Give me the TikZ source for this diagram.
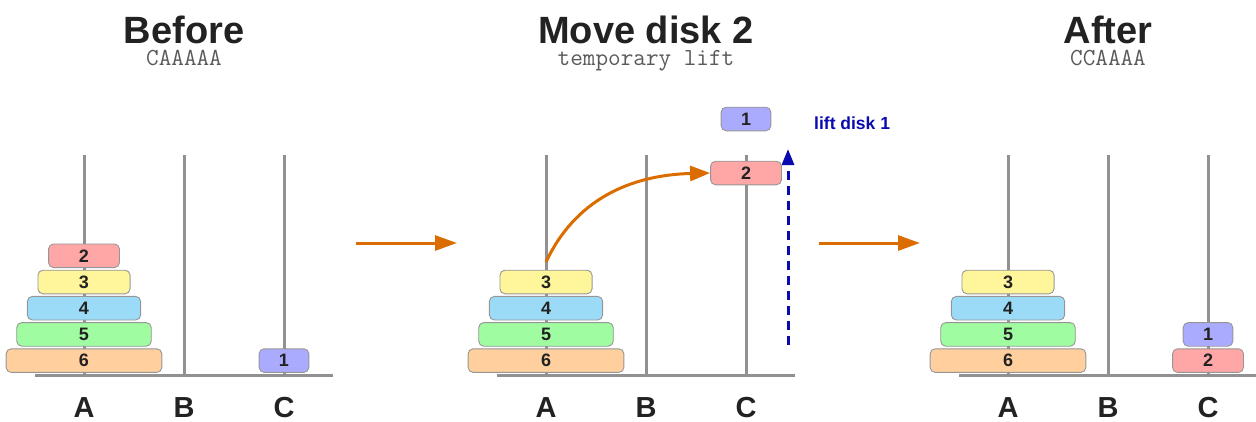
\documentclass[tikz,border=0pt]{standalone}
\usepackage{fontspec}
\setsansfont{Liberation Sans}
\usetikzlibrary{arrows.meta}
\definecolor{pegcol}{RGB}{145,145,145}
\definecolor{diskedge}{RGB}{150,150,150}
\definecolor{txt}{RGB}{34,34,34}
\definecolor{subcol}{RGB}{90,90,90}
\definecolor{orng}{RGB}{218,108,0}
\definecolor{blu}{RGB}{10,10,175}
\definecolor{d1}{RGB}{170,171,255}
\definecolor{d2}{RGB}{255,166,166}
\definecolor{d3}{RGB}{255,246,155}
\definecolor{d4}{RGB}{155,219,247}
\definecolor{d5}{RGB}{160,252,160}
\definecolor{d6}{RGB}{255,208,158}
\tikzset{
  peg/.style={draw=pegcol, line width=3pt},
  baseline/.style={draw=pegcol, line width=3pt},
  disk/.style={draw=diskedge, line width=0.9pt, rounded corners=5pt, minimum height=23.6pt, inner sep=0pt,
    font=\sffamily\bfseries\fontsize{18}{18}\selectfont, text=txt},
  title/.style={anchor=base, font=\sffamily\bfseries\fontsize{38}{40}\selectfont, text=txt, inner sep=0pt},
  sub/.style={anchor=base, font=\ttfamily\fontsize{24.5}{26}\selectfont, text=subcol, inner sep=0pt},
  peglabel/.style={anchor=base, font=\sffamily\bfseries\fontsize{29}{30}\selectfont, text=txt, inner sep=0pt},
  step arrow/.style={draw=orng, line width=3pt, -{Triangle[length=22pt,width=15pt]}},
  move arrow/.style={draw=orng, line width=3pt, -{Triangle[length=20pt,width=15pt]}},
  lift arrow/.style={draw=blu, line width=3pt, dash pattern=on 9pt off 6pt, -{Triangle[length=16pt,width=12pt]}},
}
\newcommand\hdisk[4]{\node[disk, fill=d#4, minimum width={28.5+21.2*#4}] (#1) at (#2,{360.6-26.2*#3}) {#4};}
\newcommand\pegset[2]{%
  \draw[baseline] (#1-49,375) -- (#1+249,375);
  \foreach \i/\n in {0/A,100/B,200/C} {
    \draw[peg] (#1+\i,155) -- (#1+\i,375);
    \node[peglabel] (#2\n) at (#1+\i,417) {\n};
  }}
\begin{document}
\begin{tikzpicture}[x=1pt,y=-1pt]
\useasboundingbox (0,0) rectangle (1256,421);
% panel 1
\pegset{84}{p}
\node[title] (t1) at (184,43) {Before};
\node[sub] (s1) at (184,65) {CAAAAA};
\hdisk{b6}{84}{0}{6}
\hdisk{b5}{84}{1}{5}
\hdisk{b4}{84}{2}{4}
\hdisk{b3}{84}{3}{3}
\hdisk{b2}{84}{4}{2}
\hdisk{b1}{284}{0}{1}
% panel 2
\pegset{546}{q}
\node[title] (t2) at (646,43) {Move disk 2};
\node[sub] (s2) at (646,65) {temporary lift};
\hdisk{m6}{546}{0}{6}
\hdisk{m5}{546}{1}{5}
\hdisk{m4}{546}{2}{4}
\hdisk{m3}{546}{3}{3}
\node[disk, fill=d2, minimum width={28.5+21.2*2}] (m2) at (746,173) {2};
\node[disk, fill=d1, minimum width={28.5+21.2*1}] (m1) at (746,119) {1};
\node[anchor=west, inner sep=0pt, font=\sffamily\bfseries\fontsize{17.5}{18}\selectfont, text=blu] (lift) at (814,123) {lift disk 1};
% panel 3
\pegset{1008}{r}
\node[title] (t3) at (1108,43) {After};
\node[sub] (s3) at (1108,65) {CCAAAA};
\hdisk{a6}{1008}{0}{6}
\hdisk{a5}{1008}{1}{5}
\hdisk{a4}{1008}{2}{4}
\hdisk{a3}{1008}{3}{3}
\hdisk{a2}{1208}{0}{2}
\hdisk{a1}{1208}{1}{1}
% arrows
\coordinate (s1r) at (356,243);
\coordinate (s2l) at (457,243);
\coordinate (s2r) at (819,243);
\coordinate (s3l) at (920,243);
\draw[step arrow] (s1r) -- (s2l);
\draw[step arrow] (s2r) -- (s3l);
\coordinate (mvstart) at (546,262);
\draw[move arrow] (mvstart) .. controls (575,200) and (630,175) .. (m2.west);
\coordinate (liftbot) at (788,345);
\coordinate (lifttop) at (788,149);
\draw[lift arrow] (liftbot) -- (lifttop);
\end{tikzpicture}
\end{document}
